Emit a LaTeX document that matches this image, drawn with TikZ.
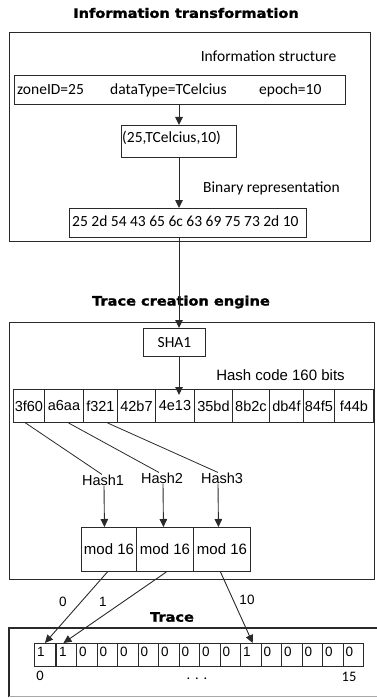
\documentclass[tikz,border=0pt]{standalone}
\usepackage{fontspec}
\setmainfont{Carlito}
\newfontfamily\arialfont{Liberation Sans}
\newfontfamily\titlefont{DejaVu Sans}[BoldFeatures={FakeBold=1.6,FakeStretch=1.12}]
\usetikzlibrary{arrows.meta,calc}

\definecolor{ink}{HTML}{2A2A2A}
\definecolor{edge}{HTML}{A8A8A8}

\tikzset{
  frame/.style={draw=ink, line width=1.1pt, inner sep=0pt, anchor=north west},
  box/.style={draw=ink, line width=0.9pt, inner sep=0pt, anchor=north west},
  cell/.style={draw=ink, line width=0.9pt, inner sep=0pt, anchor=north west,
               font=\arialfont\fontsize{14.5}{16}\selectfont},
  myr/.style={font=\fontsize{15.5}{17}\selectfont, inner sep=0pt, anchor=base west},
  ari/.style={font=\arialfont\fontsize{14.5}{16}\selectfont, inner sep=0pt},
  ttl/.style={font=\titlefont\bfseries\fontsize{13}{15}\selectfont, inner sep=0pt},
  bitdigit/.style={anchor=base west, inner sep=0pt, xshift=3pt, yshift=-13pt,
                   font=\arialfont\fontsize{13.5}{16}\selectfont},
  arr/.style={draw=ink, line width=0.9pt, -{Triangle[length=8pt,width=7.5pt]}},
  ln/.style={draw=ink, line width=0.8pt}
}

\begin{document}
\begin{tikzpicture}[x=1pt,y=-1pt]
\useasboundingbox (0,0) rectangle (377,698);

% ---------------- Information transformation ----------------
\node[ttl] (t1) at (186,13) {Information transformation};
\node[frame, minimum width=361pt, minimum height=209pt] (f1) at (9,32) {};

\node[myr, anchor=base] (infolbl) at (268.5,61.5) {Information structure};
\node[box, minimum width=331pt, minimum height=29pt] (zone) at (14,75) {};
\node[myr] (zid) at (17,95) {zoneID=25};
\node[myr] (dtype) at (110,95) {dataType=TCelcius};
\node[myr] (epoch) at (259,95) {epoch=10};

\node[box, minimum width=115pt, minimum height=32pt] (tuple) at (121,125) {};
\node[myr] (tupletxt) at (122,142.5) {(25,TCelcius,10)};

\node[myr, anchor=base] (binlbl) at (271.5,192) {Binary representation};
\node[box, minimum width=237pt, minimum height=29pt] (bin) at (69,208) {};
\node[myr] (bintxt) at (72,226) {25 2d 54 43 65 6c 63 69 75 73 2d 10};

\coordinate (spine) at (179,0);
\draw[arr] (zone.south -| spine) -- (tuple.north -| spine);
\draw[arr] (tuple.south -| spine) -- (bin.north -| spine);

% ---------------- Trace creation engine ----------------
\node[ttl] (t2) at (181,302) {Trace creation engine};
\node[frame, minimum width=365pt, minimum height=257pt] (f2) at (9,322) {};

\node[box, minimum width=62pt, minimum height=28pt,
      font=\fontsize{15.5}{17}\selectfont] (sha) at (143,328) {SHA1};
\draw[arr] (bin.south -| spine) -- (sha.north -| spine);

\node[ari, anchor=base, font=\arialfont\fontsize{15}{16}\selectfont] (hashlbl) at (280.5,380.5) {Hash code 160 bits};

% hash code words
\foreach \i/\a/\b/\t in {1/13/44/3f60, 2/44/83/a6aa, 3/83/117/f321, 4/117/155/42b7,
                         5/155/194/4e13, 6/194/232/35bd, 7/232/269/8b2c, 8/269/303/db4f,
                         9/303/334/84f5, 10/334/373/f44b}{
  \node[cell, minimum width={(\b-\a)*1pt}, minimum height=33pt] (c\i) at (\a,389) {\t};
}
\draw[arr] (sha.south -| spine) -- ($(c5.north -| spine)+(0,6)$);

% hash selections
\node[ari] (h1) at (103,480) {Hash1};
\node[ari] (h2) at (162,478) {Hash2};
\node[ari] (h3) at (222,478) {Hash3};
\draw[ln] ($(c1.south)+(-3.5,0)$) -- ($(h1.north)+(-1,0)$);
\draw[ln] ($(c2.south)+(4.5,0)$) -- ($(h2.north)+(-3,0)$);
\draw[ln] ($(c3.south)+(7,0)$) -- ($(h3.north)+(-4,0)$);

% modulo cells
\node[cell, minimum width=55pt, minimum height=44pt, font=\arialfont\fontsize{15}{16}\selectfont] (m1) at (81,527) {mod 16};
\node[cell, minimum width=57pt, minimum height=44pt, font=\arialfont\fontsize{15}{16}\selectfont] (m2) at (136,527) {mod 16};
\node[cell, minimum width=57pt, minimum height=44pt, font=\arialfont\fontsize{15}{16}\selectfont] (m3) at (193,527) {mod 16};
\draw[arr] ($(h1.south)+(1,0)$) -- ($(m1.north)+(-4.5,0)$);
\draw[arr] ($(h2.south)+(1,0)$) -- ($(m2.north)+(-1.5,0)$);
\draw[arr] ($(h3.south)+(-4,0)$) -- ($(m3.north)+(-3.5,0)$);

% ---------------- Trace ----------------
\node[ttl] (t3) at (172,617) {Trace};
\path[draw=ink, line width=1.1pt] (380,628) -- (9,628) -- (9,696.5);
\path[draw=edge, line width=1pt] (9,696.5) -- (380,696.5);

\node[box, minimum width=21pt, minimum height=23pt, label={[bitdigit]north west:1}] (b1) at (34,643) {};
\node[box, minimum width=20pt, minimum height=23pt, label={[bitdigit]north west:1}] (b2) at (56,643) {};
\foreach \k in {3,...,16}{
  \pgfmathsetmacro{\xl}{76+20.5*(\k-3)}
  \pgfmathtruncatemacro{\bit}{\k==11 ? 1 : 0}
  \node[box, minimum width=20.5pt, minimum height=23pt, label={[bitdigit]north west:\bit}] (b\k) at (\xl,643) {};
}

\draw[arr] ($(m1.south)+(-1.5,0)$) -- (b1.north);
\draw[arr] ($(m2.south)+(1.5,0)$) -- ($(b2.north)+(-3,0)$);
\draw[arr] ($(m3.south)+(-1.5,0)$) -- ($(b11.north)+(2,0)$);

\node[ari, font=\arialfont\fontsize{13.5}{16}\selectfont] (n0) at (63,602) {0};
\node[ari, font=\arialfont\fontsize{13.5}{16}\selectfont] (n1) at (103,602) {1};
\node[ari, font=\arialfont\fontsize{13.5}{16}\selectfont] (n10) at (247,600) {10};

\node[myr, anchor=center, font=\fontsize{14.5}{16}\selectfont] (lo) at (40,676) {0};
\node[myr, anchor=center, font=\fontsize{14.5}{16}\selectfont] (dots) at (197,679) {.\,\,.\,\,.};
\node[myr, anchor=center, font=\fontsize{14.5}{16}\selectfont] (hi) at (349,677) {15};
\end{tikzpicture}
\end{document}
